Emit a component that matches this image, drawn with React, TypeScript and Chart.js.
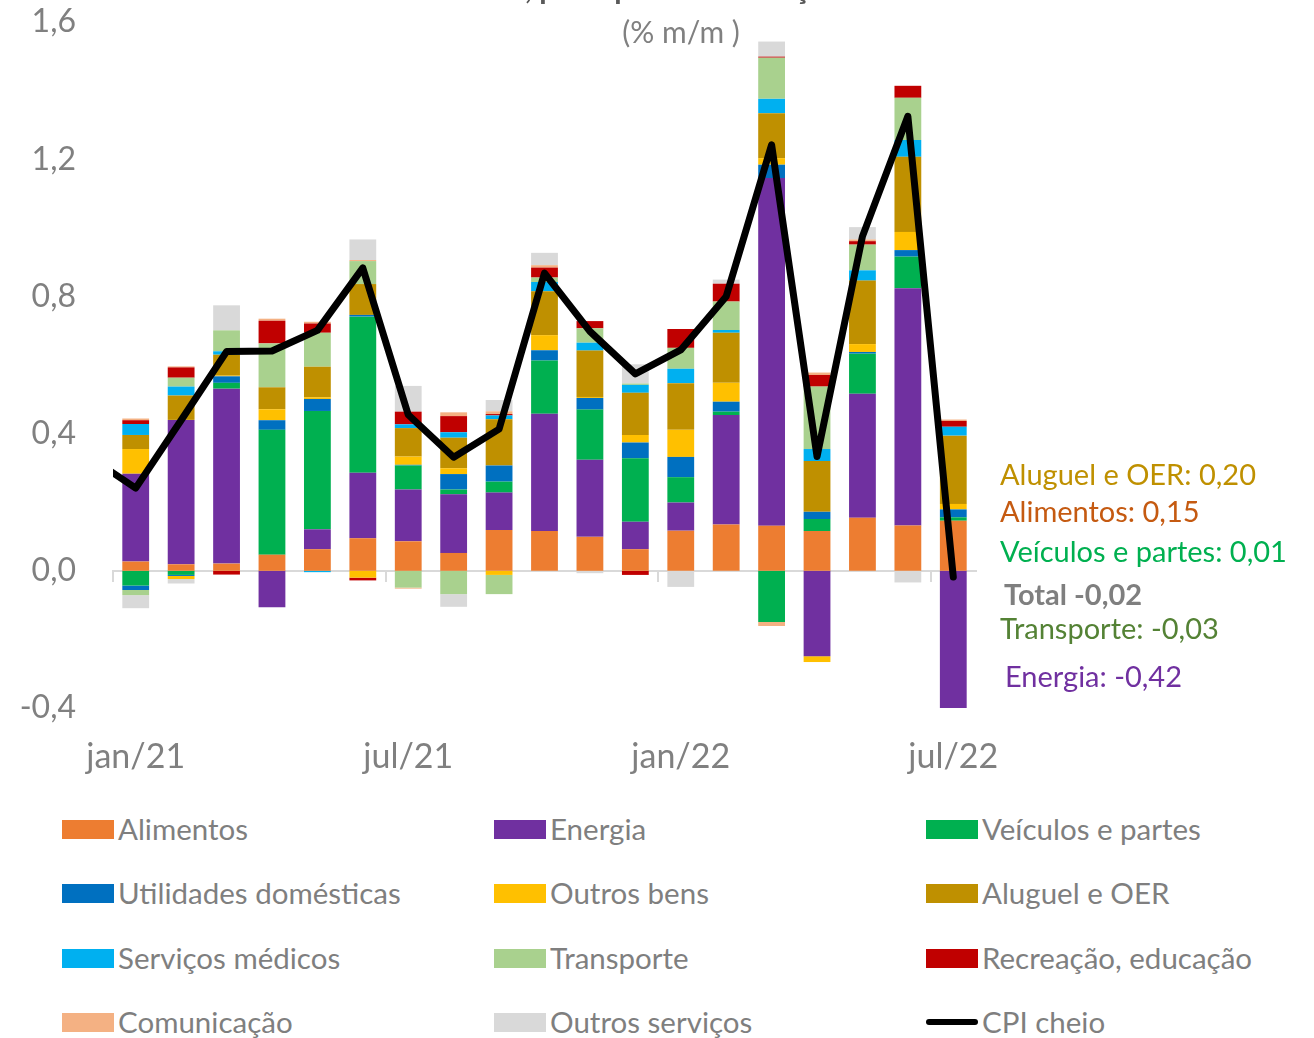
import React, { useEffect, useRef } from 'react';
import { Chart, registerables } from 'chart.js';

Chart.register(...registerables);

// Categories (first one only feeds the lead-in of the CPI line, axis starts at jan/21)
const months = ['dez/20', 'jan/21', 'fev/21', 'mar/21', 'abr/21', 'mai/21', 'jun/21', 'jul/21', 'ago/21', 'set/21', 'out/21', 'nov/21', 'dez/21', 'jan/22', 'fev/22', 'mar/22', 'abr/22', 'mai/22', 'jun/22', 'jul/22'];

// Contributions (p.p.)
const alimentos = [null, 0.027, 0.019, 0.021, 0.047, 0.063, 0.095, 0.086, 0.052, 0.119, 0.116, 0.099, 0.063, 0.117, 0.135, 0.131, 0.116, 0.155, 0.132, 0.146];
const energia = [null, 0.256, 0.421, 0.510, -0.106, 0.058, 0.191, 0.151, 0.171, 0.109, 0.342, 0.225, 0.080, 0.082, 0.319, 1.014, -0.249, 0.361, 0.692, -0.42];
const veiculos = [null, -0.043, -0.012, 0.017, 0.364, 0.345, 0.455, 0.070, 0.014, 0.032, 0.155, 0.146, 0.185, 0.074, 0.010, -0.149, 0.035, 0.117, 0.092, 0.010];
const utilidades = [null, -0.013, -0.003, 0.019, 0.028, 0.035, 0.005, 0.002, 0.045, 0.047, 0.030, 0.034, 0.046, 0.059, 0.029, 0.039, 0.021, 0.005, 0.019, 0.023];
const outrosBens = [null, 0.072, -0.009, 0.002, 0.032, 0.005, -0.020, 0.024, 0.017, -0.012, 0.044, 0.003, 0.022, 0.079, 0.055, 0.019, -0.017, 0.023, 0.053, 0.016];
const aluguel = [null, 0.041, 0.071, 0.061, 0.064, 0.089, 0.090, 0.083, 0.089, 0.135, 0.128, 0.135, 0.123, 0.136, 0.146, 0.131, 0.148, 0.185, 0.219, 0.199];
const servMedicos = [null, 0.032, 0.026, 0.010, 0.0, -0.004, 0.0, 0.011, 0.016, 0.011, 0.027, 0.023, 0.023, 0.042, 0.008, 0.042, 0.035, 0.030, 0.049, 0.026];
const transporte = [null, -0.015, 0.026, 0.061, 0.128, 0.099, 0.067, -0.049, -0.068, -0.056, 0.013, 0.042, 0.004, 0.061, 0.083, 0.120, 0.182, 0.075, 0.123, -0.03];
const recreacao = [null, 0.011, 0.030, -0.011, 0.066, 0.027, -0.008, 0.037, 0.047, 0.004, 0.029, 0.021, -0.012, 0.055, 0.052, 0.003, 0.034, 0.010, 0.035, 0.017];
const comunicacao = [null, 0.005, 0.003, 0.0, 0.006, 0.005, 0.003, -0.003, 0.011, 0.008, 0.007, 0.0, 0.0, 0.0, 0.0, -0.012, 0.007, 0.005, 0.0, 0.004];
const outrosServicos = [null, -0.038, -0.013, 0.073, 0.0, 0.0, 0.060, 0.075, -0.037, 0.033, 0.036, -0.007, 0.056, -0.047, 0.012, 0.044, 0.0, 0.036, -0.034, 0.0];

// Headline CPI (% m/m)
const cpiCheio = [0.33, 0.241, 0.439, 0.639, 0.641, 0.701, 0.883, 0.455, 0.331, 0.413, 0.868, 0.698, 0.574, 0.644, 0.80, 1.242, 0.333, 0.975, 1.325, -0.018];

const seriesNames = ['Alimentos', 'Energia', 'Veículos e partes', 'Utilidades domésticas', 'Outros bens', 'Aluguel e OER', 'Serviços médicos', 'Transporte', 'Recreação, educação', 'Comunicação', 'Outros serviços'];
const seriesData = [alimentos, energia, veiculos, utilidades, outrosBens, aluguel, servMedicos, transporte, recreacao, comunicacao, outrosServicos];
const seriesColors = ['#ED7D31', '#7030A0', '#00B050', '#0070C0', '#FFC000', '#BF9000', '#00B0F0', '#A9D18E', '#C00000', '#F4B183', '#D9D9D9'];

const yTicks = [-0.4, 0, 0.4, 0.8, 1.2, 1.6];

const titleText = 'CPI nos EUA, principais contribuições';
const subtitleText = '(% m/m )';

const annotations = [
  { text: 'Aluguel e OER: 0,20', color: '#BF9000', bold: false },
  { text: 'Alimentos: 0,15', color: '#C55A11', bold: false },
  { text: 'Veículos e partes: 0,01', color: '#00B050', bold: false },
  { text: 'Total -0,02', color: '#7F7F7F', bold: true },
  { text: 'Transporte: -0,03', color: '#548235', bold: false },
  { text: 'Energia: -0,42', color: '#7030A0', bold: false },
];
const annotationY = [476, 513, 553, 596, 630, 678];
const annotationX = [1000, 1000, 1000, 1004, 1000, 1005];

// Legend layout (row-major, 3 columns)
const legendOrder = [...seriesNames, 'CPI cheio'];
const legendColX = [62, 494, 926];
const legendRowY = [829, 893, 958, 1022];

const FONT = 'Lato, "Open Sans", sans-serif';

const fmt = (v: number) => (Math.abs(v) < 1e-9 ? '0,0' : v.toFixed(1).replace('.', ','));

const textPlugin = {
  id: 'textPlugin',
  afterDraw(chart: any) {
    const ctx = chart.ctx;
    ctx.save();
    // Title (only descenders visible; cropped at top of page)
    ctx.font = `bold 30px ${FONT}`;
    ctx.fillStyle = '#595959';
    ctx.textBaseline = 'alphabetic';
    ctx.textAlign = 'left';
    const commaIdx = titleText.indexOf(',');
    const pre = ctx.measureText(titleText.slice(0, commaIdx)).width;
    ctx.fillText(titleText, 525 - pre, -1);
    // Subtitle
    ctx.font = `30px ${FONT}`;
    ctx.fillStyle = '#808080';
    ctx.textAlign = 'center';
    ctx.textBaseline = 'middle';
    ctx.fillText(subtitleText, 681, 33);
    // Right-side annotations
    ctx.textAlign = 'left';
    annotations.forEach((a, i) => {
      ctx.font = `${a.bold ? 'bold ' : ''}29px ${FONT}`;
      ctx.fillStyle = a.color;
      ctx.fillText(a.text, annotationX[i], annotationY[i]);
    });
    ctx.restore();
  },
};

export default function App() {
  const canvasRef = useRef<HTMLCanvasElement | null>(null);

  useEffect(() => {
    if (!canvasRef.current) return;
    const barDatasets = seriesNames.map((name, i) => ({
      type: 'bar' as const,
      label: name,
      data: seriesData[i],
      backgroundColor: seriesColors[i],
      borderWidth: 0,
      barPercentage: 0.59,
      categoryPercentage: 1.0,
      xAxisID: 'x',
      yAxisID: 'y',
      clip: 0,
      order: 1,
    }));
    const chart = new Chart(canvasRef.current, {
      type: 'bar',
      data: {
        labels: months,
        datasets: [
          ...barDatasets,
          {
            type: 'line' as const,
            label: 'CPI cheio',
            data: cpiCheio,
            borderColor: '#000000',
            backgroundColor: '#000000',
            borderWidth: 7,
            pointRadius: 0,
            tension: 0,
            borderJoinStyle: 'round',
            borderCapStyle: 'round',
            xAxisID: 'x',
            yAxisID: 'y',
            clip: 0,
            order: -1,
          } as any,
        ],
      },
      options: {
        responsive: false,
        animation: false,
        events: [],
        layout: { padding: { left: 0, right: 338, top: 22, bottom: 12 } },
        plugins: {
          legend: { display: false },
          tooltip: { enabled: false },
          title: { display: false },
        },
        scales: {
          x: {
            type: 'category',
            stacked: true,
            min: 'jan/21',
            offset: true,
            position: { y: 0 } as any,
            grid: {
              offset: true,
              drawOnChartArea: false,
              drawTicks: true,
              tickLength: 10,
              lineWidth: 2,
              color: (c: any) => (c.index % 6 === 0 ? '#D9D9D9' : 'rgba(0,0,0,0)'),
            },
            border: { display: true, color: '#D9D9D9', width: 2 },
            ticks: { display: false, autoSkip: false },
          },
          xl: {
            type: 'category',
            position: 'bottom',
            min: 'jan/21',
            offset: true,
            grid: { display: false, drawTicks: false },
            border: { display: false },
            afterFit: (s: any) => {
              s.height = 80;
            },
            ticks: {
              autoSkip: false,
              maxRotation: 0,
              minRotation: 0,
              padding: 29,
              color: '#808080',
              font: { family: FONT, size: 34 },
              callback: function (this: any, value: any, index: number) {
                return index % 6 === 0 ? this.getLabelForValue(value) : '';
              },
            },
          },
          y: {
            type: 'linear',
            stacked: true,
            min: yTicks[0],
            max: yTicks[yTicks.length - 1],
            afterFit: (s: any) => {
              s.width = 113;
              s.paddingTop = 0;
              s.paddingBottom = 0;
            },
            afterBuildTicks: (s: any) => {
              s.ticks = yTicks.map((v) => ({ value: v }));
            },
            grid: { display: false, drawTicks: false },
            border: { display: false },
            ticks: {
              padding: 37,
              color: '#808080',
              font: { family: FONT, size: 32 },
              callback: (v: any) => fmt(Number(v)),
            },
          },
        },
      },
      plugins: [textPlugin],
    } as any);
    return () => chart.destroy();
  }, []);

  return (
    <div style={{ position: 'absolute', left: 0, top: 0, width: 1314, height: 1038, overflow: 'hidden', background: '#ffffff', fontFamily: FONT }}>
      <canvas ref={canvasRef} width={1314} height={800} style={{ display: 'block', width: 1314, height: 800 }} />
      {legendOrder.map((name, i) => {
        const r = Math.floor(i / 3);
        const c = i % 3;
        const isLine = name === 'CPI cheio';
        return (
          <div
            key={name}
            style={{
              position: 'absolute',
              left: legendColX[c],
              top: legendRowY[r] - 20,
              height: 40,
              display: 'flex',
              alignItems: 'center',
              whiteSpace: 'nowrap',
            }}
          >
            {isLine ? (
              <span style={{ display: 'inline-block', width: 52, height: 6, borderRadius: 3, background: '#000000' }} />
            ) : (
              <span style={{ display: 'inline-block', width: 52, height: 19, background: seriesColors[i] }} />
            )}
            <span style={{ marginLeft: 4, fontSize: 29.5, color: '#7F7F7F', lineHeight: '40px' }}>{name}</span>
          </div>
        );
      })}
    </div>
  );
}
